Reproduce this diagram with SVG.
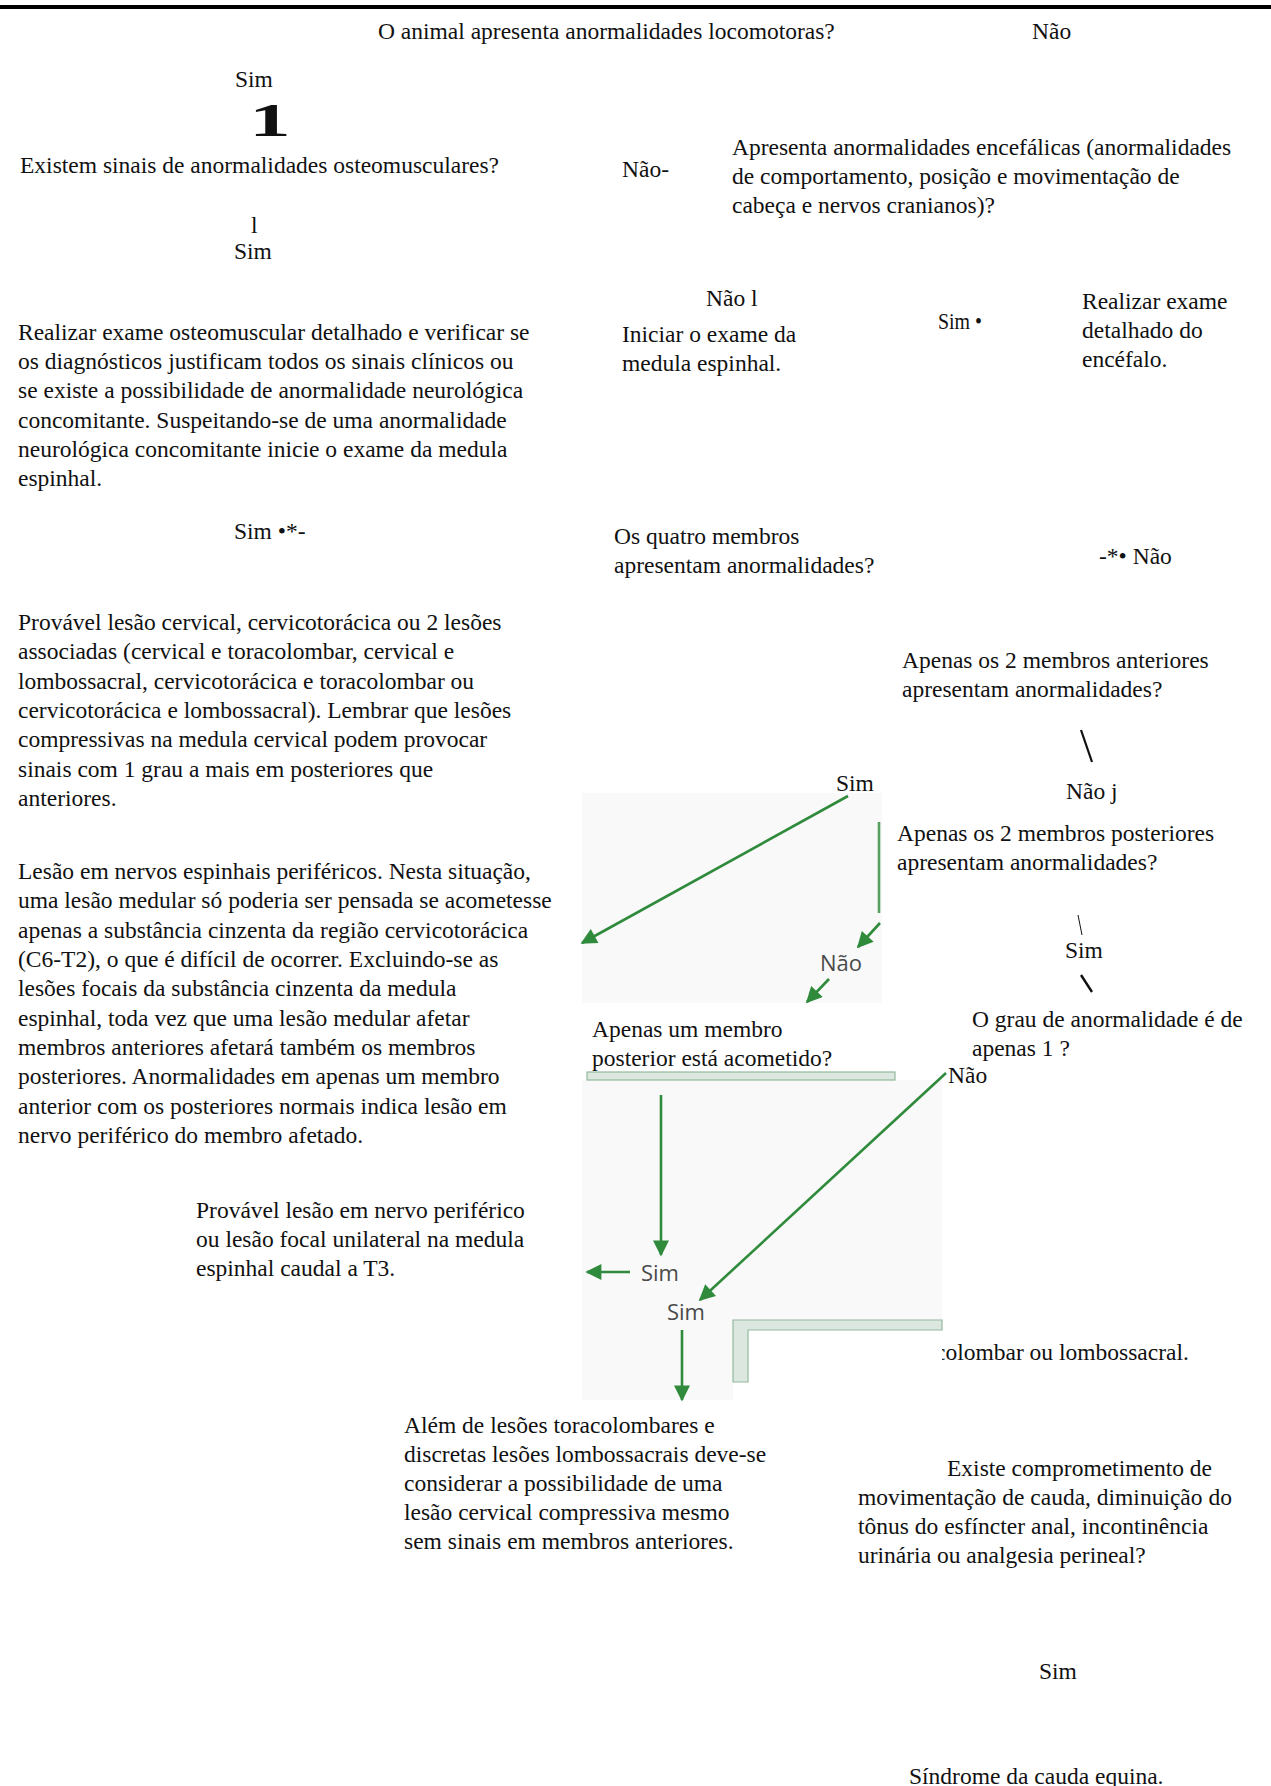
<svg xmlns="http://www.w3.org/2000/svg" width="1271" height="1786" viewBox="0 0 1271 1786">
<style>
.t{font-family:"Liberation Serif","Times New Roman",serif;font-size:23.5px;fill:#111}
.s{font-family:"Open Sans","DejaVu Sans",sans-serif;font-size:22px;fill:#4a4a4a}
.g{stroke:#2f8a3c;stroke-width:2.6;fill:none}
.k{stroke:#111;fill:none}
.bar{fill:#dce8df;stroke:#93b89d;stroke-width:1.2}
.big{font-family:"Liberation Serif","Times New Roman",serif;font-size:46px;font-weight:bold;fill:#111}
</style>
<defs>
<marker id="ah" viewBox="0 0 10 10" refX="9" refY="5" markerWidth="20" markerHeight="16" markerUnits="userSpaceOnUse" orient="auto">
<path d="M0,0 L10,5 L0,10 z" fill="#2f8a3c"/>
</marker>
<clipPath id="clipTail"><rect x="942" y="1320" width="329" height="60"/></clipPath>
</defs>
<rect width="1271" height="1786" fill="#fff"/>
<rect x="0" y="5" width="1271" height="4" fill="#000"/>

<g id="scan">
<rect x="582" y="793" width="300" height="210" fill="#f8f9f8"/>
<path d="M582,1080 H942 V1320 H733 V1400 H582 Z" fill="#f8f9f8"/>
<rect class="bar" x="587" y="1072" width="308" height="8"/>
<path class="bar" d="M733,1320 H942 V1330 H748 V1382 H733 Z"/>
</g>

<g id="connectors">
<line class="g" x1="848" y1="796" x2="582" y2="943" marker-end="url(#ah)"/>
<line class="g" x1="879" y1="822" x2="879" y2="913" stroke-opacity="0.8"/>
<line class="g" x1="880" y1="923" x2="858" y2="947" marker-end="url(#ah)"/>
<line class="g" x1="829" y1="979" x2="807" y2="1002" marker-end="url(#ah)"/>
<line class="g" x1="661" y1="1095" x2="661" y2="1255" marker-end="url(#ah)"/>
<line class="g" x1="630" y1="1272" x2="587" y2="1272" marker-end="url(#ah)"/>
<line class="g" x1="946" y1="1073" x2="700" y2="1300" marker-end="url(#ah)"/>
<line class="g" x1="682" y1="1330" x2="682" y2="1400" marker-end="url(#ah)"/>
<line class="k" x1="1081" y1="730" x2="1092" y2="762" stroke-width="2.2"/>
<line class="k" x1="1078" y1="915" x2="1082" y2="935" stroke-width="1"/>
<line class="k" x1="1081" y1="975" x2="1092" y2="992" stroke-width="2.4"/>
</g>

<g id="n-locomotoras">
<text class="t" x="378" y="39">O animal apresenta anormalidades locomotoras?</text>
</g>
<g id="l-nao-top"><text class="t" x="1032" y="39">Não</text></g>
<g id="l-sim-1"><text class="t" x="235" y="87">Sim</text></g>
<g id="l-one"><text class="big" x="0" y="0" text-anchor="middle" transform="translate(270,136) scale(1.8,1)">1</text></g>

<g id="n-osteomusculares">
<text class="t" x="20" y="173">Existem sinais de anormalidades osteomusculares?</text>
</g>
<g id="l-nao-2"><text class="t" x="622" y="177">Não-</text></g>
<g id="n-encefalicas">
<text class="t" x="732" y="155">Apresenta anormalidades encefálicas (anormalidades</text>
<text class="t" x="732" y="184">de comportamento, posição e movimentação de</text>
<text class="t" x="732" y="213">cabeça e nervos cranianos)?</text>
</g>
<g id="l-l"><text class="t" x="251" y="233">l</text></g>
<g id="l-sim-2"><text class="t" x="234" y="259">Sim</text></g>
<g id="l-nao-3"><text class="t" x="706" y="306">Não l</text></g>
<g id="n-iniciar">
<text class="t" x="622" y="342">Iniciar o exame da</text>
<text class="t" x="622" y="371">medula espinhal.</text>
</g>
<g id="l-sim-3"><text class="t" x="938" y="329" textLength="44" lengthAdjust="spacingAndGlyphs">Sim •</text></g>
<g id="n-encefalo">
<text class="t" x="1082" y="309">Realizar exame</text>
<text class="t" x="1082" y="338">detalhado do</text>
<text class="t" x="1082" y="367">encéfalo.</text>
</g>

<g id="n-osteo-exame">
<text class="t" x="18" y="340">Realizar exame osteomuscular detalhado e verificar se</text>
<text class="t" x="18" y="369">os diagnósticos justificam todos os sinais clínicos ou</text>
<text class="t" x="18" y="398">se existe a possibilidade de anormalidade neurológica</text>
<text class="t" x="18" y="428">concomitante. Suspeitando-se de uma anormalidade</text>
<text class="t" x="18" y="457">neurológica concomitante inicie o exame da medula</text>
<text class="t" x="18" y="486">espinhal.</text>
</g>

<g id="l-sim-4"><text class="t" x="234" y="539">Sim •*-</text></g>
<g id="n-quatro">
<text class="t" x="614" y="544">Os quatro membros</text>
<text class="t" x="614" y="573">apresentam anormalidades?</text>
</g>
<g id="l-nao-4"><text class="t" x="1099" y="564">-*• Não</text></g>

<g id="n-cervical">
<text class="t" x="18" y="630">Provável lesão cervical, cervicotorácica ou 2 lesões</text>
<text class="t" x="18" y="659">associadas (cervical e toracolombar, cervical e</text>
<text class="t" x="18" y="689">lombossacral, cervicotorácica e toracolombar ou</text>
<text class="t" x="18" y="718">cervicotorácica e lombossacral). Lembrar que lesões</text>
<text class="t" x="18" y="747">compressivas na medula cervical podem provocar</text>
<text class="t" x="18" y="777">sinais com 1 grau a mais em posteriores que</text>
<text class="t" x="18" y="806">anteriores.</text>
</g>

<g id="n-anteriores">
<text class="t" x="902" y="668">Apenas os 2 membros anteriores</text>
<text class="t" x="902" y="697">apresentam anormalidades?</text>
</g>
<g id="l-sim-5"><text class="t" x="836" y="791">Sim</text></g>
<g id="l-nao-5"><text class="t" x="1066" y="799">Não j</text></g>
<g id="n-posteriores">
<text class="t" x="897" y="841">Apenas os 2 membros posteriores</text>
<text class="t" x="897" y="870">apresentam anormalidades?</text>
</g>

<g id="n-perifericos">
<text class="t" x="18" y="879">Lesão em nervos espinhais periféricos. Nesta situação,</text>
<text class="t" x="18" y="908">uma lesão medular só poderia ser pensada se acometesse</text>
<text class="t" x="18" y="938">apenas a substância cinzenta da região cervicotorácica</text>
<text class="t" x="18" y="967">(C6-T2), o que é difícil de ocorrer. Excluindo-se as</text>
<text class="t" x="18" y="996">lesões focais da substância cinzenta da medula</text>
<text class="t" x="18" y="1026">espinhal, toda vez que uma lesão medular afetar</text>
<text class="t" x="18" y="1055">membros anteriores afetará também os membros</text>
<text class="t" x="18" y="1084">posteriores. Anormalidades em apenas um membro</text>
<text class="t" x="18" y="1114">anterior com os posteriores normais indica lesão em</text>
<text class="t" x="18" y="1143">nervo periférico do membro afetado.</text>
</g>

<g id="l-sim-6"><text class="t" x="1065" y="958">Sim</text></g>
<g id="n-grau">
<text class="t" x="972" y="1027">O grau de anormalidade é de</text>
<text class="t" x="972" y="1056">apenas 1 ?</text>
</g>
<g id="l-nao-6"><text class="t" x="948" y="1083">Não</text></g>
<g id="l-nao-scan"><text class="s" x="820" y="971">Não</text></g>
<g id="n-um-membro">
<text class="t" x="592" y="1037">Apenas um membro</text>
<text class="t" x="592" y="1066">posterior está acometido?</text>
</g>
<g id="n-focal">
<text class="t" x="196" y="1218">Provável lesão em nervo periférico</text>
<text class="t" x="196" y="1247">ou lesão focal unilateral na medula</text>
<text class="t" x="196" y="1276">espinhal caudal a T3.</text>
</g>
<g id="l-sim-scan1"><text class="s" x="641" y="1281">Sim</text></g>
<g id="l-sim-scan2"><text class="s" x="667" y="1320">Sim</text></g>
<g id="n-toracolombar">
<text class="t" x="935" y="1360" clip-path="url(#clipTail)">colombar ou lombossacral.</text>
</g>
<g id="n-alem">
<text class="t" x="404" y="1433">Além de lesões toracolombares e</text>
<text class="t" x="404" y="1462">discretas lesões lombossacrais deve-se</text>
<text class="t" x="404" y="1491">considerar a possibilidade de uma</text>
<text class="t" x="404" y="1520">lesão cervical compressiva mesmo</text>
<text class="t" x="404" y="1549">sem sinais em membros anteriores.</text>
</g>
<g id="n-cauda-q">
<text class="t" x="947" y="1476">Existe comprometimento de</text>
<text class="t" x="858" y="1505">movimentação de cauda, diminuição do</text>
<text class="t" x="858" y="1534">tônus do esfíncter anal, incontinência</text>
<text class="t" x="858" y="1563">urinária ou analgesia perineal?</text>
</g>
<g id="l-sim-7"><text class="t" x="1039" y="1679">Sim</text></g>
<g id="n-sindrome"><text class="t" x="909" y="1784">Síndrome da cauda equina.</text></g>
</svg>
